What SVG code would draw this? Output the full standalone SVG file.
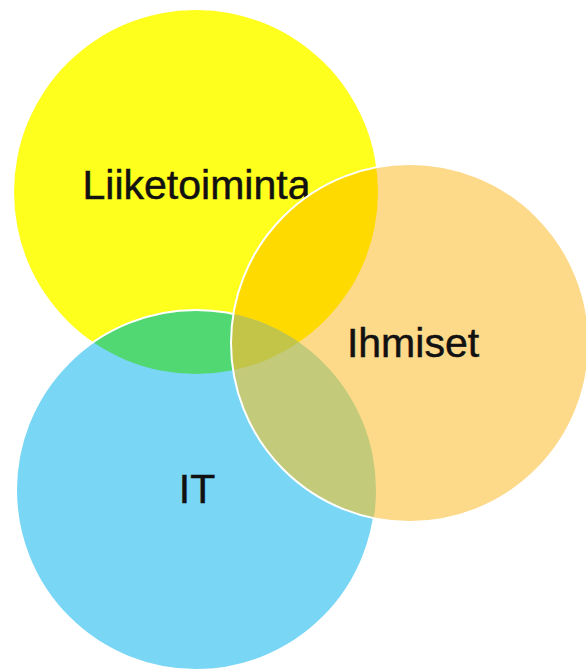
<svg xmlns="http://www.w3.org/2000/svg" width="586" height="670" viewBox="0 0 586 670">
<defs>
<style>
.lbl{font-family:"Liberation Sans",Arial,sans-serif;font-size:41px;fill:#111;stroke:#111;stroke-width:0.5;text-anchor:middle}
.edge{fill:none;stroke:#ffffff;stroke-width:2}
</style>
<clipPath id="cY"><circle cx="196" cy="192" r="182"/></clipPath>
<clipPath id="cB"><circle cx="196" cy="490" r="180"/></clipPath>
</defs>
<rect width="586" height="670" fill="#ffffff"/>
<g id="liiketoiminta">
<circle cx="196" cy="192" r="182" fill="#FFFF1E"/>
</g>
<g id="it">
<circle cx="196" cy="490" r="180" fill="#79D6F5"/>
<circle cx="196" cy="490" r="180" fill="#52D872" clip-path="url(#cY)"/>
<circle class="edge" cx="196" cy="490" r="180"/>
</g>
<text class="lbl" x="196.5" y="199">Liiketoiminta</text>
<g id="ihmiset">
<circle cx="410" cy="343" r="179" fill="#FDD98A"/>
<circle cx="410" cy="343" r="179" fill="#FFDA00" clip-path="url(#cY)"/>
<circle cx="410" cy="343" r="179" fill="#C3CA7A" clip-path="url(#cB)"/>
<g clip-path="url(#cY)"><circle cx="410" cy="343" r="179" fill="#C2C548" clip-path="url(#cB)"/></g>
<circle class="edge" cx="410" cy="343" r="179"/>
</g>
<text class="lbl" x="413" y="357">Ihmiset</text>
<text class="lbl" x="197" y="503">IT</text>
</svg>
